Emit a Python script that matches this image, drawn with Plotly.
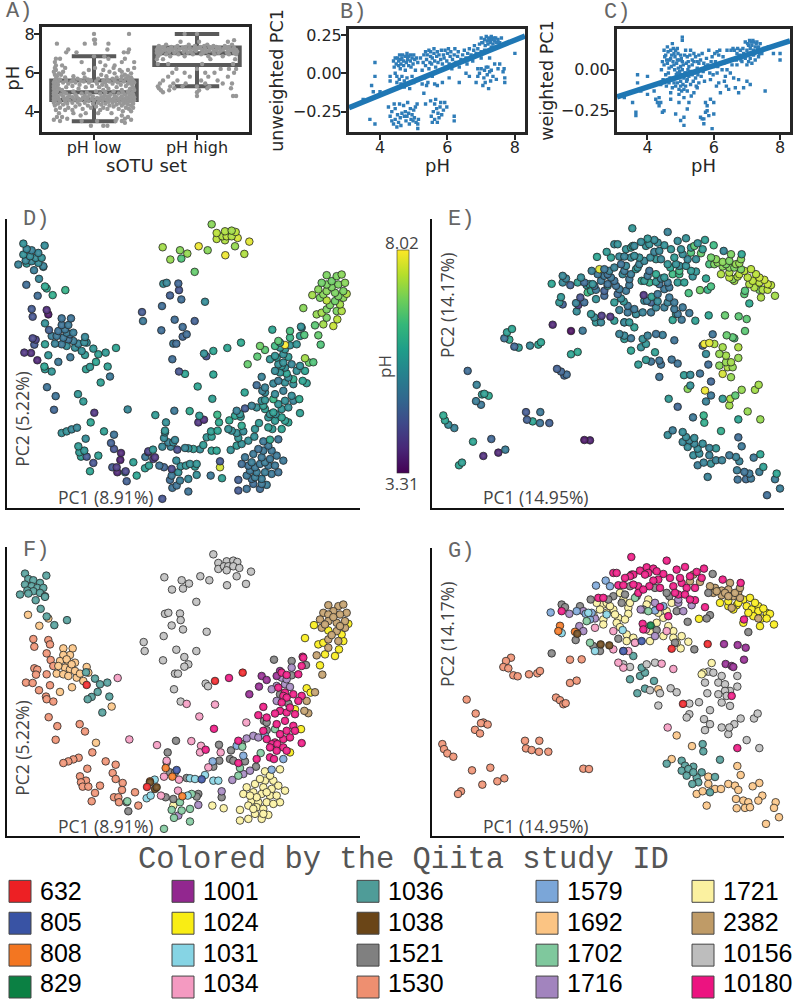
import plotly.graph_objects as go
from plotly.colors import sample_colorscale

W, H = 800, 999
PH_MIN, PH_MAX = 3.31, 8.02

STUDIES = [632, 805, 808, 829, 1001, 1024, 1031, 1034, 1036, 1038, 1521, 1530, 1579, 1692, 1702, 1716, 1721, 2382, 10156, 10180]
STUDY_COLORS = ["#ED2024", "#3953A4", "#F37621", "#0B8043", "#92278F", "#F9ED14", "#86D4E4", "#F49AC1", "#4F9C98", "#6A4517",
                "#808080", "#EE8F70", "#7BA6D8", "#FBC483", "#7FC89D", "#A284BE", "#FBF1A0", "#BF9B67", "#BDBDBD", "#EC1380"]

# box summary values (q1, median, q3, low whisker, high whisker)
BOX_LOW = (4.6, 5.0, 5.6, 3.5, 6.85)
BOX_HIGH = (6.4, 7.0, 7.3, 5.3, 8.0)

# strip rows for panel A: pH, offsets from the category centre
STRIP_LOW = [
 (3.27,[-.03,.09,.13]),(3.42,[.3]),(3.52,[-.33,-.12,.03,.21,.27]),(3.58,[-.39,.36]),(3.63,[-.26,.22,.3]),(3.72,[-.36,-.31,.33]),(3.8,[-.13,.27]),
 (3.92,[-.34,-.2,-.08,.04,.17]),(4.02,[.28,.36]),(4.08,[-.37,-.28,-.21,.06]),(4.14,[-.11,.13,.24,.34]),(4.2,[-.33,-.25,-.03,.09,.31,.38]),(4.26,[-.18,.19,.02]),
 (4.31,[-.38,-.06,.15,.27,.36]),(4.36,[-.3,-.14,.07,.22,.33]),(4.41,[-.35,-.26,-.01,.11,.29,.38]),(4.46,[-.39,-.21,-.09,.04,.18,.25]),(4.5,[-.33,-.16,.14,.31,.37]),
 (4.54,[-.38,-.28,-.05,.08,.21,.34]),(4.58,[-.39,-.24,-.13,.0,.17,.28,.39]),(4.62,[-.34,-.19,-.08,.05,.12,.24,.33]),(4.66,[-.37,-.29,-.15,-.02,.09,.19,.3,.38]),
 (4.7,[-.39,-.26,-.11,.03,.15,.26,.36]),(4.74,[-.35,-.21,-.06,.07,.22,.32,.39]),(4.78,[-.38,-.3,-.17,-.01,.13,.27]),(4.82,[-.36,-.24,-.09,.1,.2,.35]),
 (4.88,[-.39,-.32,-.18,-.04,.16,.3,.38]),(4.93,[-.37,-.27,-.12,.06,.24,.34]),(4.99,[-.39,-.29,-.07,.11,.28,.37]),(5.04,[-.36,-.2,.02,.19,.33]),
 (5.11,[-.38,-.31,.09,.27,.39]),(5.18,[-.39,-.34,-.15,.14,.35]),(5.26,[-.36,-.27,-.08,.05,.22,.38]),(5.32,[-.39,-.21,-.02,.12,.31]),(5.38,[-.35,-.14,.08,.26,.37]),
 (5.44,[-.37,-.25,.03,.18,.33]),(5.5,[-.39,-.3,-.18,-.05,.11,.23,.36,.39]),(5.55,[-.35,-.22,-.1,.02,.15,.29,.38]),(5.6,[-.38,-.27,-.13,-.03,.09,.2,.34]),
 (5.65,[-.33,-.2,-.06,.13,.26,.37]),(5.7,[-.37,-.16,.04,.18,.31]),(5.76,[-.28,-.09,.22,.36]),(5.82,[-.36,-.2,.12,.27,.33]),(5.9,[-.38,-.32,.07,.3]),(5.97,[-.34,-.1,.2,.36]),
 (6.05,[-.39,-.3,.15,.27]),(6.14,[-.37,-.05,.09,.25,.33]),(6.25,[-.38,-.28,.01,.19,.39]),(6.38,[-.37,-.31,.11,.2]),(6.55,[-.38,-.12,.06,.27,.39]),
 (6.72,[-.37,-.33,.14,.3]),(6.85,[.0,.1]),(7.05,[-.27,-.17,.29,.33]),(7.2,[-.25,.13,.34]),(7.5,[-.36,-.09,.14,.01]),(7.7,[.0,.01]),(8.0,[.0,.34]),
]
STRIP_HIGH = [
 (4.8,[.0,.35,.38]),(5.0,[-.33,.0]),(5.1,[-.35,-.27,.02]),(5.2,[-.37,-.22,.1,.33]),(5.3,[-.38,-.26,-.14,.0,.12]),
 (5.45,[-.36,-.23,-.11,.08,.25,.34]),(5.6,[-.33,-.19,.04,.2]),(5.8,[-.28,-.07,.11,.3]),(6.0,[-.24,-.12,.08,.17,.36]),
 (6.2,[-.2,.0,.23,.31,.38]),(6.45,[-.38,-.28,.05,.35]),(6.7,[-.39,-.33,.13,.37]),(6.85,[-.38,-.26,-.12,.11,.25]),
 (6.95,[-.36,-.3,-.18,-.04,.04,.17,.31,.38]),(7.03,[-.39,-.22,-.09,.06,.21,.29,.36]),(7.08,[-.38,-.34,-.27,-.13,-.06,.09,.16,.3,.39]),
 (7.13,[-.36,-.2,-.01,.12,.23,.37]),(7.18,[-.39,-.31,-.24,-.1,.05,.19,.33,.38]),(7.23,[-.37,-.28,-.17,-.03,.08,.26,.35]),(7.28,[-.38,-.35,-.21,-.14,-.07,.01,.15,.22,.29,.36]),
 (7.33,[-.32,-.25,-.11,.03,.12,.19,.31]),(7.38,[-.37,-.19,-.02,.07,.16,.27]),(7.45,[-.3,-.08,.1,.34]),(7.6,[-.16,.02,.3]),(7.68,[.36]),(8.0,[.0,-.12]),
]

# panel B: pH, unweighted PC1
B_POINTS = [(3.5,-.17),(3.7,-.3),(3.85,-.33),(3.85,.07),(3.85,-.02),(3.75,-.08),(3.8,-.12),(4.0,-.12),(4.25,-.22),(4.3,-.02),(4.3,-.05),(4.35,-.25),
(4.4,.08),(4.42,.04),(4.45,.0),(4.45,.1),(4.48,.06),(4.5,-.06),(4.5,-.02),(4.52,.1),(4.55,.05),(4.55,.08),(4.57,-.04),(4.58,.12),(4.6,.03),(4.6,.09),(4.62,-.07),(4.62,.06),
(4.65,-.02),(4.65,.1),(4.67,.12),(4.7,.05),(4.7,.08),(4.72,-.05),(4.72,-.09),(4.75,.11),(4.75,.02),(4.78,.07),(4.8,.13),(4.8,-.03),(4.82,.09),(4.82,-.07),(4.85,.05),(4.85,.11),(4.88,-.1),(4.9,.08),(4.9,.12),(4.92,.04),(4.95,-.02),(4.95,.1),(4.98,.06),(5.0,.12),(5.0,-.06),(5.03,.09),(5.05,.02),(5.08,.1),(5.1,-.04),(5.12,.07),
(4.3,-.28),(4.35,-.31),(4.4,-.33),(4.42,-.2),(4.45,-.23),(4.45,-.3),(4.5,-.35),(4.52,-.27),(4.55,-.32),(4.58,-.2),(4.6,-.29),(4.62,-.34),(4.65,-.26),(4.7,-.21),(4.72,-.28),(4.75,-.25),(4.77,-.31),(4.8,-.28),(4.82,-.19),(4.85,-.26),(4.87,-.33),(4.9,-.23),(4.92,-.3),(4.95,-.27),(4.98,-.31),(5.0,-.24),(5.02,-.29),(5.05,-.22),(5.07,-.32),(5.1,-.2),(5.12,-.33),(5.12,-.36),(5.14,-.3),
(5.2,.1),(5.25,.02),(5.28,.07),(5.3,.12),(5.32,-.03),(5.35,.14),(5.35,.05),(5.38,.09),(5.4,.12),(5.42,-.06),(5.45,.15),(5.45,.03),(5.48,.07),(5.5,.11),(5.5,.14),(5.53,.06),(5.55,.1),(5.55,-.02),(5.6,.13),(5.6,.16),(5.62,.08),(5.65,.04),(5.68,.11),(5.7,.14),(5.72,.07),(5.75,.12),(5.78,.02),(5.8,.09),(5.82,.15),(5.85,.06),(5.88,.12),(5.9,.1),(5.93,.15),(5.95,.04),(5.98,.08),(6.0,.13),(6.03,.16),(6.05,.06),(6.08,.11),(6.1,.14),(6.13,.03),(6.15,.09),(6.2,.12),(6.22,.16),(6.25,.07),(6.3,.11),(6.32,.14),(6.35,.04),(6.4,.09),(6.45,.12),(6.5,.15),(6.55,.1),(6.58,.06),(6.6,.13),(6.65,.16),(6.7,.12),(6.75,.08),(6.78,.15),(6.8,.18),(6.85,.13),(6.9,.16),(6.95,.19),(7.0,.14),(7.02,.2),
(5.25,-.07),(5.3,-.13),(5.35,-.2),(5.38,-.08),(5.5,-.18),(5.52,-.28),(5.55,-.32),(5.58,-.25),(5.62,-.2),(5.62,-.3),(5.65,-.17),(5.68,-.23),(5.7,-.32),(5.72,-.26),(5.75,-.29),(5.78,-.22),(5.8,-.19),(5.83,-.27),(5.88,-.24),(5.92,-.19),(5.98,-.22),(5.62,-.07),(5.7,-.08),(5.85,-.06),(6.05,-.03),(6.2,-.28),(6.2,-.31),(6.35,-.06),(6.55,.0),(6.65,-.02),(6.9,.03),(6.95,.0),
(7.0,.23),(7.05,.2),(7.1,.22),(7.12,.18),(7.15,.24),(7.18,.21),(7.2,.19),(7.22,.23),(7.25,.22),(7.28,.2),(7.3,.24),(7.32,.22),(7.35,.19),(7.38,.23),(7.4,.21),(7.43,.23),(7.45,.2),(7.5,.22),(7.55,.2),(7.6,.23),(7.3,.17),(7.1,.15),(7.0,.1),(7.25,.1),
(6.85,-.06),(6.9,-.02),(7.0,.03),(7.05,-.08),(7.08,-.03),(7.1,.02),(7.12,-.06),(7.15,.04),(7.18,-.01),(7.2,.04),(7.22,-.1),(7.25,.01),(7.28,-.05),(7.3,.02),(7.35,-.02),(7.4,.06),(7.45,-.04),(7.5,.03),(7.55,.06),(7.65,.01),(7.7,-.03),(7.7,-.06),(7.68,.03),(8.0,.13)]

# panel C: pH, weighted PC1
C_POINTS = [(3.3,-.17),(3.55,-.2),(3.65,-.26),(3.65,-.28),(3.7,-.03),(3.7,-.08),(3.75,-.12),(3.8,-.13),(4.0,-.04),(4.0,-.15),(4.2,-.13),(4.25,-.18),(4.3,-.2),(4.35,-.22),(4.35,-.17),
(4.4,-.09),(4.4,-.2),(4.45,-.26),(4.5,-.25),(4.45,.05),(4.5,.12),(4.55,.09),(4.55,-.03),(4.6,.04),(4.6,.14),(4.65,-.08),(4.65,.01),(4.7,.12),(4.7,.07),(4.7,-.14),(4.7,-.18),
(4.75,.16),(4.8,.1),(4.8,.03),(4.8,-.05),(4.85,-.1),(4.85,-.27),(4.9,.06),(4.9,.13),(4.9,-.02),(4.95,-.15),(4.95,-.2),(5.0,.02),(5.0,.09),(5.0,-.07),(5.0,-.1),(5.0,-.31),
(5.05,.18),(5.05,.2),(5.05,-.04),(5.05,.05),(5.1,-.12),(5.1,-.17),(5.1,-.34),(5.1,-.29),(5.15,.12),(5.15,-.02),(5.2,.08),(5.2,-.06),(5.2,-.24),(5.25,.02),(5.25,-.2),(5.3,.12),(5.3,-.09),
(5.35,.06),(5.35,-.03),(5.4,-.14),(5.4,.1),(5.45,-.05),(5.5,.01),(5.5,-.11),(5.55,.09),(5.55,.04),(5.6,-.29),(5.65,-.3),(5.7,-.3),(5.7,-.33),(5.75,-.2),(5.75,.02),(5.75,-.26),(5.8,-.22),
(5.8,-.25),(5.85,-.28),(5.85,.12),(5.9,-.06),(5.9,-.18),(5.95,.08),(5.95,-.36),(6.0,-.2),(6.0,.02),(6.0,-.27),(6.05,.05),(6.1,.11),(6.1,-.02),(6.15,.09),(6.15,-.08),(6.2,-.14),(6.3,.04),
(6.35,-.04),(6.4,.12),(6.4,.0),(6.45,-.12),(6.5,-.02),(6.55,.03),(6.6,-.05),(6.65,-.11),(6.7,.1),(6.7,.03),(6.75,-.14),(6.8,.12),(6.85,.05),(6.9,.1),(6.9,-.11),(6.95,.07),(7.0,.12),(7.0,.09),
(7.0,.03),(7.05,.05),(7.05,.15),(7.1,.1),(7.1,.07),(7.1,.13),(7.15,.15),(7.15,.04),(7.2,.09),(7.2,.12),(7.2,.17),(7.25,.06),(7.25,.14),(7.3,.11),(7.3,.17),(7.35,.08),(7.35,.14),(7.4,.12),
(7.4,.16),(7.45,.1),(7.5,.13),(7.55,-.13),(7.65,.14),(7.8,.1),(8.0,.1),(8.0,.06),(6.95,.17),(7.0,-.07),(6.75,-.06),(7.1,-.09),
(4.42,.0),(4.47,-.06),(4.5,.03),(4.52,.08),(4.57,-.1),(4.58,.06),(4.62,.11),(4.63,-.02),(4.66,.06),(4.68,-.05),(4.72,.02),(4.73,.09),(4.75,-.11),(4.77,.05),(4.78,.13),(4.8,-.08),(4.82,.0),(4.83,.08),(4.85,.12),(4.87,-.03),(4.88,.04),(4.9,-.08),(4.92,.1),(4.93,.01),(4.95,-.12),(4.96,.06),(4.97,-.01),(5.0,-.03),(5.02,.07),(5.03,-.13),(5.05,.0),(5.07,-.09),(5.08,.03),(5.1,-.05),(5.12,.09),(5.13,-.02),(5.15,-.1),(5.17,.04),(5.18,-.07),(5.2,-.13),(5.22,.0),(5.23,.05),(5.25,-.04),(5.28,.09),(5.3,-.01),(5.32,-.16),(5.35,.03),(5.38,-.07),(5.4,.05),(5.42,-.02),(5.45,.08),(5.47,-.1),(5.5,.05),(5.52,-.03),(5.55,-.08),(5.58,.0),(5.6,.06),(5.62,-.04),(5.65,.1),(5.68,-.01),(5.7,.04),(5.72,-.07),(5.78,.07),(5.82,.03),(5.88,-.02),(5.92,.05),(5.98,-.03),(6.03,.1),(6.08,-.1),(6.12,.02),(6.18,.12),(6.25,.0),(6.28,.08),(6.32,-.07),(6.38,-.1),(6.5,.06),(6.52,.12),(6.58,.13),(6.62,.12),(6.68,.06),(6.72,.13),(6.78,.09),(6.82,.06),(6.88,.13),(6.92,.08),(7.02,.16),(7.08,.18),(7.12,.17),(7.18,.18),(7.22,.1),(7.28,.16),(7.32,.13),(7.38,.1)]

# panels D / F: (PC1, PC2 in picture units, pH), by study
U_632 = [(645,450,5.9),(728,425,6.0),(260,462,5.7),(441,769,5.0)]
U_805 = [(530,718,5.3),(605,746,5.4)]
U_808 = [(497,712,5.4),(517,738,5.2),(547,797,5.5),(450,752,4.1)]
U_1001 = [(785,435,6.9),(800,447,6.7),(777,467,6.7),(748,490,6.8),(840,420,6.7),(830,435,6.4)]
U_1024 = [(1045,278,7.4),(942,282,7.3),(915,321,7.1),(1030,330,7.4),(955,340,7.2),(970,335,7.3),(1017,355,7.5),(975,370,7.3),(1005,375,7.6),(960,403,6.8),
          (920,472,7.3),(932,485,6.8),(885,535,6.1),(903,595,6.0),(870,665,5.9),(985,298,7.5),(1025,310,7.3)]
U_1031 = [(464,747,5.6),(440,803,5.8),(452,795,5.8),(563,795,5.6),(615,733,5.7),(640,750,5.8),(655,750,5.9),(570,743,5.5),(585,745,5.7)]
U_1034 = [(353,441,5.9),(560,519,5.9),(645,521,5.9),(598,557,5.9),(739,575,5.9),(388,626,5.3),(471,643,5.7),(574,631,6.0),(603,645,5.7),(600,665,3.9),
          (662,665,6.0),(500,690,5.6),(492,738,5.3),(537,747,4.3),(534,780,5.4),(483,795,4.9),(625,710,5.6)]
U_1036 = [(75,127,5.5),(139,133,5.4),(85,143,5.3),(100,147,5.2),(120,155,5.3),(75,160,5.5),(95,165,5.4),(112,170,5.4),(130,170,5.5),(82,178,5.3),(100,180,5.3),
          (120,185,5.4),(135,195,5.2),(60,190,5.2),(85,187,5.6),(107,207,5.1),(135,197,5.5),(122,233,5.3),(140,256,6.0),(163,282,6.1),(201,267,6.2),
          (258,424,5.4),(285,443,5.6),(300,460,5.8),(322,455,5.7),(293,483,5.9),(328,497,5.8),(275,498,5.7),(263,505,5.8),(307,545,5.8)]
U_1038 = [(465,775,4.0),(450,755,4.0),(470,770,3.9)]
U_1521 = [(822,386,5.9),(875,390,6.5),(918,402,6.6),(875,433,5.5),(865,518,5.9),(792,570,5.2),(800,598,5.6),(693,659,6.0),(657,642,6.3),(528,630,5.0),(503,665,5.5),(690,685,5.5),
          (735,692,5.4),(658,690,5.9),(768,708,5.5),(640,708,5.8),(500,695,5.4),(510,725,5.2),(525,725,5.4),(560,742,5.3),(497,800,4.7),(520,805,4.2),(595,790,5.6),(590,798,5.7),(665,800,7.7),(385,842,4.6),(380,815,5.5),(840,490,5.5),(800,575,5.4),(725,640,5.6),(700,690,5.5)]
U_1530 = [(100,324,4.5),(145,327,3.8),(103,347,4.4),(150,340,3.5),(140,367,5.5),(152,387,4.6),(160,405,5.1),(103,412,4.2),(112,416,4.1),(108,431,4.5),(140,430,5.8),(78,455,3.9),(98,456,3.8),
          (150,463,5.6),(117,478,3.7),(138,497,5.9),(140,505,5.7),(160,512,5.6),(146,559,4.9),(172,586,4.9),(239,580,5.6),(255,602,5.7),(167,627,4.7),(277,665,5.9),(236,681,5.3),(220,686,5.3),(205,692,5.5),
          (190,697,5.5),(317,692,5.8),(347,702,4.9),(262,714,5.4),(338,727,4.6),(240,737,5.7),(258,750,5.6),(347,745,4.4),(243,755,5.7),(248,768,5.8),(265,768,4.5),(368,757,3.7),(366,778,3.6),
          (300,765,5.8),(285,787,4.4),(275,812,5.9),(342,800,4.5),(355,800,4.0),(357,815,3.7),(405,785,5.8),(415,825,5.9)]
U_1579 = [(710,645,5.9),(730,675,6.0),(638,692,5.8),(815,717,6.0),(850,685,5.9),(795,615,5.8)]
U_1692 = [(84,251,4.8),(118,284,4.8),(145,262,6.0),(190,352,4.9),(218,352,4.9),(210,372,5.0),(190,372,4.9),(180,390,4.9),(205,395,5.1),(225,395,5.1),(195,410,5.0),(210,415,4.9),(170,428,5.2),
          (190,430,5.0),(205,435,5.4),(230,440,5.4),(260,408,5.3),(265,425,5.4),(250,450,5.5),(216,469,5.0),(180,483,5.0),(335,527,5.0),(288,636,3.9),(175,405,5.0),(200,385,5.0),(215,400,4.9),(225,420,5.1),(240,428,5.2)]
U_1702 = [(825,595,6.3),(727,648,5.7),(720,712,5.6),(782,667,5.7),(715,735,5.7),(492,895,4.4),(570,873,4.9),(522,862,4.9),(515,838,4.8),(545,840,5.1),(570,835,5.3),(575,790,5.5),(540,815,5.5),(382,812,4.2)]
U_1716 = [(875,410,6.3),(830,465,5.6),(855,460,5.5),(870,468,5.7),(815,475,5.6),(830,510,5.4),(740,623,4.5),(760,615,5.2),(775,620,5.5),(697,748,5.5),(665,782,4.5),(595,823,5.5),(535,855,4.9),(730,730,5.5),(750,720,5.5),(845,440,5.6),(860,445,5.6)]
U_1721 = [(795,722,5.0),(840,716,4.9),(795,750,5.0),(820,750,5.0),(765,760,5.0),(790,770,5.0),(815,775,5.0),(855,780,5.0),(740,770,5.0),(730,790,4.8),(760,785,5.1),(785,790,5.0),(810,795,5.0),(840,815,4.9),(755,810,5.0),
          (775,815,5.1),(800,815,5.1),(820,820,5.0),(745,825,5.0),(770,830,5.1),(790,835,5.1),(720,838,4.6),(745,865,4.9),(720,870,4.5),(785,865,4.8),(805,853,5.1),(765,850,4.8),(637,825,5.0),(671,833,5.8),(520,825,5.0),
          (810,735,5.0),(780,745,4.9),(835,765,5.0),(770,800,5.0),(800,785,5.1),(830,795,5.0),(750,795,4.9),(790,850,5.0),(760,835,4.9)]
U_2382 = [(985,222,7.0),(1015,225,7.0),(1030,220,7.1),(1040,245,7.1),(1000,240,6.9),(970,245,6.9),(985,250,7.0),(1020,250,7.0),(960,265,7.1),(985,270,7.1),(1010,275,7.0),(1035,290,7.1),(965,290,7.0),(1010,300,6.9),
          (985,325,7.0),(1015,330,7.0),(1035,270,7.0),(985,350,7.0),(950,373,6.7),(967,431,6.6),(945,484,6.6),(920,510,5.9),(925,547,5.8),(913,540,5.9),(1000,258,7.0),(975,280,7.1),(1020,285,7.0),(995,312,7.0)]
U_10156 = [(640,69,7.1),(655,95,7.5),(680,90,7.4),(700,88,7.3),(712,92,7.5),(655,113,7.5),(672,105,7.4),(685,105,7.5),(700,105,7.4),(718,110,7.7),(680,117,7.4),(710,135,7.2),(753,121,7.8),(681,162,7.9),(738,158,7.4),
           (601,135,7.9),(628,147,7.1),(545,147,7.1),(567,157,7.2),(549,172,6.6),(516,175,7.2),(493,138,7.3),(589,212,6.8),(495,248,5.5),(505,245,5.3),(540,247,4.7),(542,267,4.4),(515,283,4.6),(549,295,4.8),
           (620,302,5.4),(491,315,4.8),(431,333,4.5),(434,360,5.0),(529,356,4.8),(589,360,4.6),(553,378,4.8),(489,388,4.8),(565,400,4.8),(553,407,4.7),(525,428,5.0),(534,428,4.8),(522,475,4.8),(617,458,5.5),(624,466,4.4),(542,512,4.4)]
U_10180 = [(687,441,5.9),(642,594,5.8),(908,377,5.5),(905,405,5.7),(895,430,5.6),(855,485,5.5),(880,490,5.3),(905,495,5.5),(790,528,5.2),(775,553,4.8),(840,540,5.1),(860,545,5.5),(885,550,5.5),(855,570,5.2),(880,585,5.4),(860,600,5.5),(885,600,5.2),
           (850,625,5.6),(825,635,5.8),(815,640,5.6),(905,637,5.8),(832,640,5.5),(850,650,5.9),(810,680,5.8),(822,685,5.7),(617,657,3.8),(715,630,5.2),(770,685,5.6),(715,697,5.5),(845,425,5.8),(860,432,8.0),(850,495,5.6),(835,470,5.7),
           (910,380,5.4),(860,500,5.5),(825,548,5.3),(870,530,5.4),(845,515,5.6),(895,510,5.5),(800,560,5.2),(830,580,5.4),(870,620,5.5),(840,610,5.6),(800,625,5.8),(790,600,5.5),(830,660,5.7),(860,660,5.8),(810,650,5.6)]

# panels E / G: (PC1, PC2 in picture units, pH), by study
W_632 = [(815,353,5.9),(923,339,5.9),(849,519,5.7)]
W_805 = [(670,360,5.3),(725,330,5.2)]
W_808 = [(480,284,5.6),(475,300,5.6),(525,302,5.2)]
W_829 = [(752,283,5.8)]
W_1001 = [(972,339,6.8),(1013,342,6.7),(1037,350,6.7),(1032,386,6.7),(977,399,6.8),(995,405,6.7),(1000,408,6.6)]
W_1024 = [(960,215,7.4),(985,225,7.5),(1010,222,7.4),(1030,205,7.5),(1050,200,7.5),(1075,225,7.6),(1040,225,7.5),(1055,235,7.5),(1100,245,7.6),(1075,240,7.5),(1110,248,7.5),(1085,262,7.4),(1100,262,7.5),(1122,280,7.3),(1080,285,7.4),(897,263,6.9),(1030,275,6.7),
           (985,210,7.4),(1015,215,7.5),(1065,215,7.5),(1090,232,7.6),(1060,255,7.4),(1000,235,7.3),(1045,245,7.4)]
W_1031 = [(485,306,4.6),(668,297,5.6),(585,360,5.6),(620,250,5.6),(565,245,5.6)]
W_1034 = [(640,300,5.7),(585,290,5.5),(640,355,5.7),(670,410,5.7),(655,395,5.2),(685,360,5.6),(705,335,5.4),(738,295,5.1),(785,398,5.1),(820,414,4.9),(800,300,5.2),(803,590,5.7),(670,360,5.3)]
W_1036 = [(800,699,5.4),(845,690,5.4),(855,705,5.4),(880,708,5.4),(845,720,5.3),(865,715,5.3),(905,725,5.4),(860,735,5.4),(890,740,5.4),(880,725,5.3),(895,755,5.4),(877,760,5.4),(945,739,5.6),(930,785,5.5),(960,687,6.1),(908,640,6.2),(910,662,6.1),
          (690,445,5.9),(712,487,5.7),(735,473,5.7),(762,450,5.8),(720,435,5.5),(735,425,5.6),(725,410,5.5),(700,375,5.8)]
W_1038 = [(532,308,4.0),(602,340,4.0),(628,343,3.9)]
W_1521 = [(938,128,6.4),(808,195,5.9),(925,185,6.5),(863,272,6.5),(930,252,6.5),(920,262,6.2),(1045,303,6.0),(883,355,5.8),(455,367,3.7),(527,327,5.4),(485,220,5.3),(495,228,5.2),(572,205,5.2),(640,195,5.2),(675,190,5.3),
           (695,130,5.7),(690,165,5.4),(765,170,5.6),(825,335,5.7),(655,323,5.2),(580,345,5.4),(600,360,5.3),(540,225,5.4),(770,297,5.4),(730,235,5.7),(625,205,5.2),(665,215,5.3),(710,195,5.5),(800,185,5.6),(830,240,5.7)]
W_1530 = [(333,380,5.9),(318,390,5.8),(310,408,4.9),(325,412,6.0),(340,433,4.7),(353,436,5.8),(387,430,5.3),(412,427,5.9),(420,420,5.9),(510,456,5.9),(530,449,6.0),(468,500,4.6),(480,508,4.7),(490,520,4.7),(497,517,4.8),(200,506,4.8),(227,548,5.2),
           (250,575,5.8),(243,577,5.7),(263,581,6.0),(225,597,5.1),(240,608,5.0),(375,630,4.5),(418,630,5.0),(378,653,4.6),(395,658,5.9),(417,663,4.9),(445,663,4.6),(127,640,6.0),(132,655,5.9),(142,668,5.4),(160,678,5.2),(216,719,5.9),
           (271,711,4.7),(313,743,5.1),(292,752,3.7),(247,762,3.8),(183,782,5.8),(174,790,5.9),(550,714,3.5),(567,715,3.6),(510,386,3.4),(545,385,5.0)]
W_1579 = [(452,244,5.9),(530,240,5.8),(588,163,5.9),(617,148,5.7),(630,165,5.8),(557,248,5.6),(570,265,5.9),(575,245,5.5),(765,238,5.6),(790,225,5.6)]
W_1692 = [(815,685,5.1),(830,614,4.7),(876,646,5.0),(1012,706,4.8),(1022,733,5.0),(925,738,5.2),(925,760,5.2),(890,790,5.1),(908,782,5.2),(945,775,5.2),(963,775,5.2),(985,760,5.0),(1005,765,5.2),(1015,778,5.2),(1078,757,5.9),(1058,767,5.0),
           (1087,795,5.8),(1075,810,5.1),(1008,805,5.1),(1030,810,4.9),(1045,815,5.0),(1010,833,4.9),(1035,832,4.8),(1050,830,5.0),(920,825,5.2),(1127,815,5.9),(1122,832,5.1),(1137,860,5.1),(1180,860,5.2),(1098,880,4.8),(775,475,4.9)]
W_1702 = [(570,335,5.6),(705,200,5.7),(560,270,6.4),(745,240,6.2)]
W_1716 = [(508,248,4.7),(550,240,4.8),(538,285,4.4),(550,300,4.8),(585,262,5.0),(722,235,6.0),(765,215,6.0),(835,215,6.3),(850,240,5.8),(875,222,5.5),(835,205,6.4),(765,315,5.3),(705,335,5.1)]
W_1721 = [(580,250,4.9),(610,220,5.0),(620,215,4.9),(660,185,4.9),(610,265,4.6),(610,280,4.7),(640,235,4.9),(655,260,5.0),(650,275,4.8),(685,230,5.0),(685,248,5.0),(680,310,5.0),(680,330,5.0),(750,330,5.0),(790,315,5.1),(820,300,5.0),(820,320,5.0),
           (800,240,5.0),(790,260,5.0),(770,275,5.0),(745,205,4.9),(740,220,5.0),(845,315,5.0),(865,332,5.0),(842,352,5.0),(935,396,4.9),(910,425,7.9),(905,430,4.6),(815,215,6.4),(660,288,5.4),(750,300,4.7),(600,235,5.0),(630,225,5.0),(645,250,4.9),(670,205,5.0),(700,320,5.0),(775,245,4.9),(805,285,5.0),(830,335,5.0),(590,215,5.0),(620,245,4.9),(675,265,5.0),(690,215,5.1)]
W_2382 = [(880,130,6.7),(870,150,6.6),(900,152,6.8),(990,155,7.0),(945,170,7.1),(965,178,7.1),(985,175,7.0),(1015,182,7.2),(940,185,7.0),(965,192,7.1),(1000,195,7.0),(1020,200,7.0),(995,230,7.1),(1075,262,7.0),(950,180,7.1),(975,185,7.0),(1005,185,7.2),(930,165,6.9),(985,195,7.1),(1020,170,7.1)]
W_10156 = [(670,400,5.3),(690,408,5.0),(740,400,5.2),(765,395,4.9),(812,472,4.9),(830,484,4.9),(750,478,4.9),(780,487,4.9),(775,524,4.9),(868,518,5.4),(897,514,4.9),(930,538,4.7),(868,550,5.5),(860,560,7.1),(912,565,7.9),(930,580,5.0),(915,598,5.2),(965,590,5.7),
           (985,610,7.3),(1003,580,6.7),(1022,563,7.2),(1062,563,7.3),(1073,548,7.3),(988,590,7.4),(1040,628,7.2),(1078,652,7.2),(915,455,5.4),(925,422,7.8),(940,425,7.4),(965,435,7.3),(955,455,7.2),(975,460,7.3),(1012,435,7.4),(1012,467,7.2),(990,480,7.3),(975,480,7.2),(980,495,7.4),(955,490,7.1),(922,487,4.8),(965,515,7.7),(990,525,7.2)]
W_10180 = [(694,77,5.6),(800,88,5.2),(855,107,5.5),(912,112,5.8),(740,108,5.6),(760,112,5.4),(720,118,5.4),(745,125,5.5),(640,125,5.4),(650,125,5.5),(700,130,5.3),(790,128,5.5),(830,115,5.4),(890,122,5.5),(655,162,5.3),(670,162,5.2),(690,135,5.7),(775,145,5.3),(760,148,5.2),(715,165,5.5),(748,165,5.4),(715,185,5.2),
           (845,155,5.4),(820,165,5.7),(860,170,5.3),(835,190,5.4),(855,190,5.5),(885,170,5.4),(885,207,5.6),(968,145,5.3),(1022,155,5.9),(915,228,5.9),(780,228,5.2),(595,200,7.8),(610,200,5.0),(485,240,5.3),(728,278,3.9),(1032,265,6.6),(1012,652,5.9),(995,495,7.2),(805,255,5.0),(730,295,5.3),
           (735,130,5.5),(770,120,5.4),(810,140,5.6),(840,140,5.5),(870,135,5.6),(905,140,5.7),(780,170,5.3),(825,185,5.5),(870,205,5.7),(730,175,5.3),(700,160,5.4),(675,140,5.5)]

U_BY_STUDY = {632: U_632, 805: U_805, 808: U_808, 1001: U_1001, 1024: U_1024, 1031: U_1031, 1034: U_1034, 1036: U_1036, 1038: U_1038, 1521: U_1521,
              1530: U_1530, 1579: U_1579, 1692: U_1692, 1702: U_1702, 1716: U_1716, 1721: U_1721, 2382: U_2382, 10156: U_10156, 10180: U_10180}
W_BY_STUDY = {632: W_632, 805: W_805, 808: W_808, 829: W_829, 1001: W_1001, 1024: W_1024, 1031: W_1031, 1034: W_1034, 1036: W_1036, 1038: W_1038, 1521: W_1521,
              1530: W_1530, 1579: W_1579, 1692: W_1692, 1702: W_1702, 1716: W_1716, 1721: W_1721, 2382: W_2382, 10156: W_10156, 10180: W_10180}
# drawing order of the studies (later ones on top)
DRAW_ORDER = [1530, 1692, 1036, 10156, 1721, 1024, 2382, 1521, 1716, 1579, 1702, 1034, 1031, 1001, 10180, 808, 1038, 805, 829, 632]

LINE_B = ([3.08, 8.30], [-0.224, 0.243])
LINE_C = ([3.08, 8.30], [-0.165, 0.177])

INK = "#262626"
MONO = "Liberation Mono, monospace"
SANS = "DejaVu Sans, sans-serif"
PCOA_FONT = "Open Sans, sans-serif"

fig = go.Figure()
axis_n = [0]


def add_axes(x0, x1, y0, y1, xrange, yrange, **extra):
    """Create one axis pair at a pixel box (y counted from the top)."""
    axis_n[0] += 1
    n = axis_n[0]
    sx = "" if n == 1 else str(n)
    xa = dict(domain=[x0 / W, x1 / W], range=xrange, anchor="y" + sx, zeroline=False, showgrid=False)
    ya = dict(domain=[1 - y1 / H, 1 - y0 / H], range=yrange, anchor="x" + sx, zeroline=False, showgrid=False)
    xa.update(extra.get("x", {}))
    ya.update(extra.get("y", {}))
    fig.update_layout({"xaxis" + sx: xa, "yaxis" + sx: ya})
    return "x" + sx, "y" + sx


def boxed(standoff, **kw):
    d = dict(showline=True, linecolor=INK, linewidth=3, mirror=True, ticks="outside", ticklen=5, tickwidth=2, tickcolor=INK,
             ticklabelstandoff=standoff, tickfont=dict(family=SANS, size=16, color=INK))
    d.update(kw)
    return d


def note(text, x, y, size, family=SANS, color=INK, angle=0, anchor="center"):
    fig.add_annotation(text=text, x=x / W, y=1 - y / H, xref="paper", yref="paper", showarrow=False,
                       font=dict(family=family, size=size, color=color), textangle=angle, xanchor=anchor, yanchor="middle")


# panel A
xa, ya = add_axes(42, 249, 24, 129, [-0.505, 1.505], [2.97, 8.36],
                  x=boxed(-6, tickvals=[0, 1], ticktext=["pH low", "pH high"]), y=boxed(-4, tickvals=[4, 6, 8]))
for cx, b in ((0, BOX_LOW), (1, BOX_HIGH)):
    fig.add_trace(go.Box(x=[cx], q1=[b[0]], median=[b[1]], q3=[b[2]], lowerfence=[b[3]], upperfence=[b[4]], width=0.83, whiskerwidth=0.52,
                         line=dict(color="#5A5A5A", width=4), fillcolor="rgba(0,0,0,0)", boxpoints=False, xaxis=xa, yaxis=ya, showlegend=False))
for cx, rows in ((0, STRIP_LOW), (1, STRIP_HIGH)):
    sx = [cx + o for ph, offs in rows for o in offs]
    sy = [ph for ph, offs in rows for o in offs]
    fig.add_trace(go.Scatter(x=sx, y=sy, mode="markers", marker=dict(size=4.4, color="#979797"), xaxis=xa, yaxis=ya, showlegend=False))

# panels B and C
for pts, line, box, xr, yr, yt in (
    (B_POINTS, LINE_B, (349, 525, 26, 129), [3.08, 8.30], [-0.38, 0.289], [-0.25, 0, 0.25]),
    (C_POINTS, LINE_C, (617, 790, 26, 129), [3.08, 8.30], [-0.378, 0.25], [-0.25, 0]),
):
    xa, ya = add_axes(*box, xr, yr, x=boxed(-6, tickvals=[4, 6, 8]),
                      y=boxed(-4, tickvals=yt, ticktext=[f"{v:.2f}".replace("-", "\u2212") for v in yt]))
    fig.add_trace(go.Scatter(x=[p[0] for p in pts], y=[p[1] for p in pts], mode="markers", marker=dict(size=3.4, color="#2F7DB8", symbol="square"),
                             xaxis=xa, yaxis=ya, showlegend=False))
    fig.add_trace(go.Scatter(x=line[0], y=line[1], mode="lines", line=dict(color="#1F77B4", width=5.5), xaxis=xa, yaxis=ya, showlegend=False))

plain = dict(showline=True, linecolor="#111111", linewidth=2, showticklabels=False, ticks="")
BALL = 7.6
EDGE = dict(color="#2a2a2a", width=0.8)


def lighten(rgb, f=0.22):
    r, g, b = rgb
    return f"rgb({int(r+(255-r)*f)},{int(g+(255-g)*f)},{int(b+(255-b)*f)})"


def hex_rgb(c):
    return int(c[1:3], 16), int(c[3:5], 16), int(c[5:7], 16)


def ph_panel(box, xr, yr, by_study, colorbar=False):
    xa, ya = add_axes(*box, xr, yr, x=plain, y=plain)
    pts = [p for s in DRAW_ORDER for p in by_study.get(s, [])]
    pts.sort(key=lambda p: -p[1] + p[0] * 0.01)
    ph = [p[2] for p in pts]
    sampled = sample_colorscale("Viridis", [(v - PH_MIN) / (PH_MAX - PH_MIN) for v in ph], colortype="tuple")
    glow = [lighten((c[0] * 255, c[1] * 255, c[2] * 255)) for c in sampled]
    marker = dict(size=BALL, color=ph, colorscale="Viridis", cmin=PH_MIN, cmax=PH_MAX, line=EDGE, gradient=dict(type="radial", color=glow))
    if colorbar:
        marker["showscale"] = True
        marker["colorbar"] = dict(x=397 / W, xanchor="left", y=1 - 471 / H, yanchor="bottom", lenmode="pixels", len=223, thicknessmode="pixels", thickness=12,
                                  outlinewidth=0.6, outlinecolor="#333", showticklabels=False, ticks="", xpad=0, ypad=0)
    fig.add_trace(go.Scatter(x=[p[0] for p in pts], y=[p[1] for p in pts], mode="markers", marker=marker, cliponaxis=False, xaxis=xa, yaxis=ya, showlegend=False))


def study_panel(box, xr, yr, by_study):
    xa, ya = add_axes(*box, xr, yr, x=plain, y=plain)
    for s in DRAW_ORDER:
        pts = by_study.get(s)
        if not pts:
            continue
        col = STUDY_COLORS[STUDIES.index(s)]
        fig.add_trace(go.Scatter(x=[p[0] for p in pts], y=[p[1] for p in pts], mode="markers", name=str(s), cliponaxis=False,
                                 marker=dict(size=BALL, color=col, line=EDGE, gradient=dict(type="radial", color=lighten(hex_rgb(col)))),
                                 xaxis=xa, yaxis=ya, showlegend=False))


ph_panel((7, 360, 217, 507), [26, 1085], [924, 54], U_BY_STUDY, colorbar=True)
ph_panel((432, 784, 217, 507), [93, 1149], [920, 50], W_BY_STUDY)
study_panel((7, 360, 546, 836), [21, 1080], [918, 48], U_BY_STUDY)
study_panel((432, 784, 547, 836), [96, 1152], [918, 51], W_BY_STUDY)

# axis and panel texts
note("pH", 13, 76, 18, angle=-90)
note("sOTU set", 146, 163, 18)
note("unweighted PC1", 277, 78, 17.5, angle=-90)
note("pH", 437, 163, 18)
note("weighted PC1", 547, 78, 17.5, angle=-90)
note("pH", 703, 163, 18)
for text, x, y in (("A)", 4, 9), ("B)", 338, 10), ("C)", 602, 10), ("D)", 21, 217), ("E)", 446, 217), ("F)", 21, 549), ("G)", 446, 550)):
    note(text, x, y, 22, family=MONO, color="#666666", anchor="left")

PC_GRAY = "#444444"
for y_pc1, y_pc2 in ((495, 417), (825, 747)):
    note("PC1 (8.91%)", 106, y_pc1, 17.5, family=PCOA_FONT, color=PC_GRAY)
    note("PC2 (5.22%)", 22, y_pc2, 17.5, family=PCOA_FONT, color=PC_GRAY, angle=-90)
for y_pc1, y_pc2 in ((495, 303), (825, 633)):
    note("PC1 (14.95%)", 536, y_pc1, 17.5, family=PCOA_FONT, color=PC_GRAY)
    note("PC2 (14.17%)", 447, y_pc2, 17.5, family=PCOA_FONT, color=PC_GRAY, angle=-90)

note("8.02", 402, 240, 17, family=PCOA_FONT, color=PC_GRAY)
note("3.31", 402, 482, 17, family=PCOA_FONT, color=PC_GRAY)
note("pH", 385, 365, 17, family=PCOA_FONT, color=PC_GRAY, angle=-90)

# study legend
note("Colored by the Qiita study ID", 403, 860, 30.5, family=MONO, color="#555555")
COL_X = [9, 172, 357, 536, 692]
ROW_Y = [880, 912, 944, 976]
TEXT_Y = [891, 922, 953, 983]
for i, (s, col) in enumerate(zip(STUDIES, STUDY_COLORS)):
    cx, ry = COL_X[i // 4], ROW_Y[i % 4]
    fig.add_shape(type="rect", xref="paper", yref="paper", x0=cx / W, x1=(cx + 22) / W, y0=1 - (ry + 22) / H, y1=1 - ry / H,
                  fillcolor=col, line=dict(color="#444444", width=1))
    note(str(s), cx + 29, TEXT_Y[i % 4], 25, family="Liberation Sans, Arial, sans-serif", color="#000000", anchor="left")

fig.update_layout(width=W, height=H, margin=dict(l=0, r=0, t=0, b=0), paper_bgcolor="white", plot_bgcolor="rgba(0,0,0,0)", showlegend=False)
fig.write_html("out.html", config={"displayModeBar": False},
               post_script="document.body.style.margin='0';document.documentElement.style.overflow='hidden';")
